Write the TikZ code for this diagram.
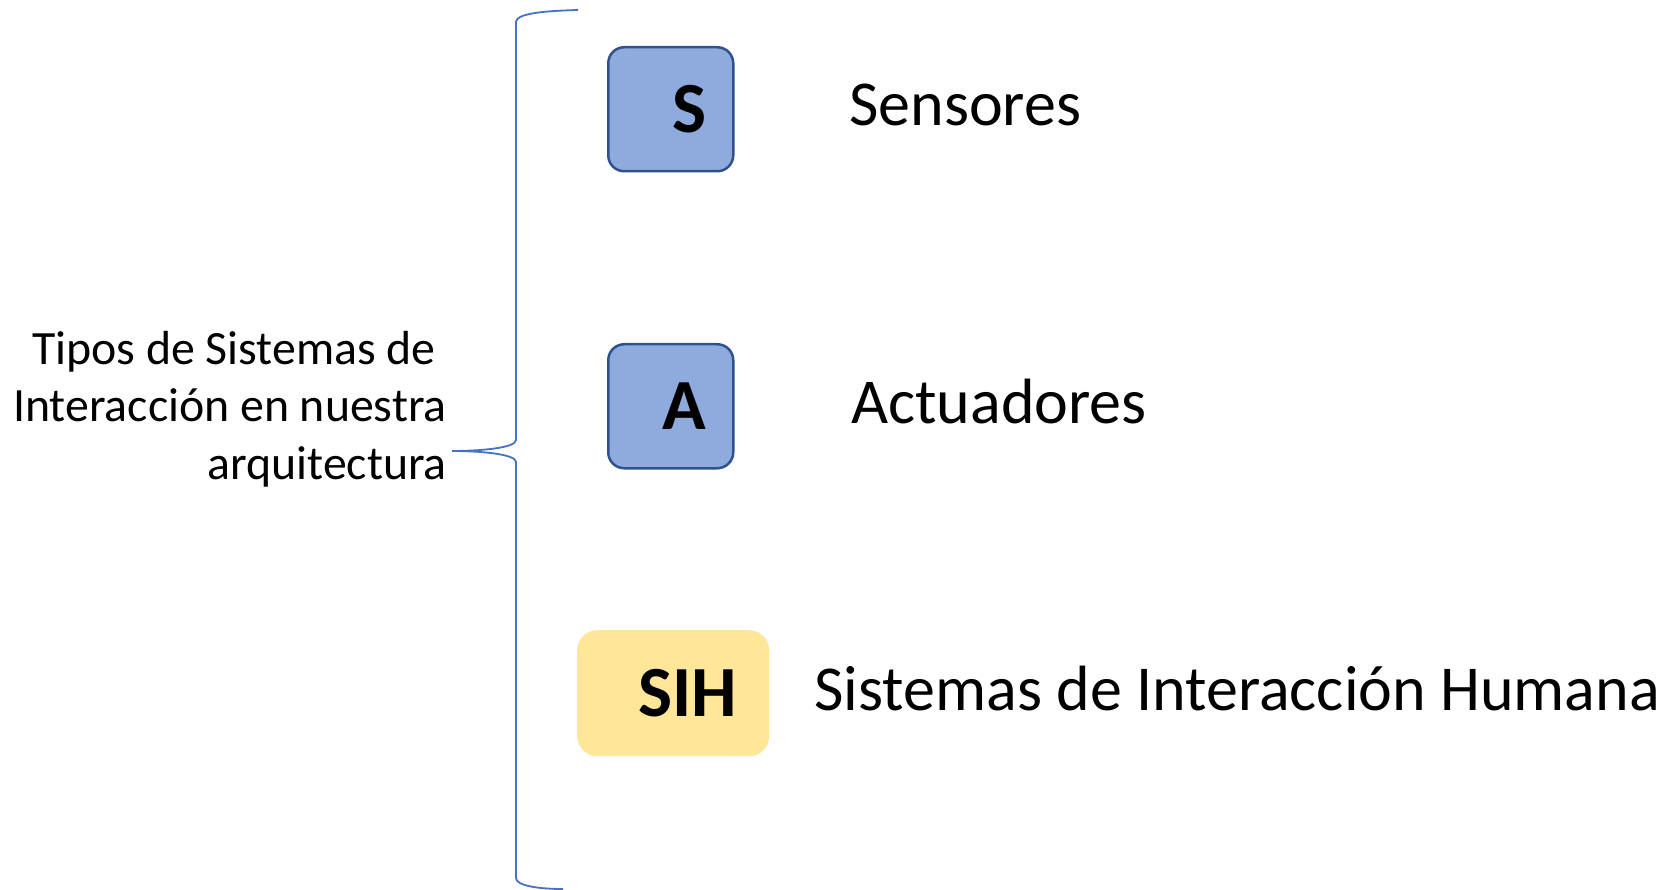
\documentclass[tikz,border=0pt]{standalone}
\usepackage{fontspec}
\setmainfont{Carlito}
\definecolor{boxblue}{HTML}{8FAADC}
\definecolor{boxedge}{HTML}{2F528F}
\definecolor{boxyellow}{HTML}{FFE699}
\definecolor{bracecol}{HTML}{4472C4}
\begin{document}
\begin{tikzpicture}[x=1pt,y=-1pt,
  letterbox/.style={rounded corners=16pt, font=\fontsize{72}{80}\selectfont\bfseries,
    align=right, inner ysep=0pt, minimum height=124pt, anchor=north west},
  bluebox/.style={letterbox, fill=boxblue, draw=boxedge, line width=2.5pt,
    inner xsep=27pt, text width=71pt},
  yellowbox/.style={letterbox, fill=boxyellow, draw=none, rounded corners=20pt,
    inner xsep=32pt, text width=128pt, minimum height=126pt},
  biglabel/.style={font=\fontsize{64}{70}\selectfont, anchor=base west, inner sep=0pt},
  bracepath/.style={draw=bracecol, line width=1.8pt}]
\useasboundingbox (0,0) rectangle (1675,890);

\node[bluebox] (s) at (607,46) {S};
\node[bluebox] (a) at (607,343) {A};
\node[yellowbox] (sih) at (577,630) {SIH};

\node[biglabel] (ls) at (849,126) {Sensores};
\node[biglabel] (la) at (851,423) {Actuadores};
\node[biglabel] (lsih) at (814,710) {Sistemas de Interacción Humana};

\node[font=\fontsize{47.8}{57.5}\selectfont, align=right, anchor=east, inner sep=0pt] (tipos) at (447,409)
  {Tipos de Sistemas de\hspace*{11pt}\\Interacción en nuestra\\arquitectura};

\coordinate (tip) at (452,451);
\draw[bracepath] (578,10) .. controls (540,11) and (516,14) .. (516,22) -- (516,440)
  .. controls (516,448) and (480,451) .. (tip)
  .. controls (480,451) and (516,454) .. (516,462) -- (516,878)
  .. controls (516,886) and (540,889) .. (563,889);
\end{tikzpicture}
\end{document}
